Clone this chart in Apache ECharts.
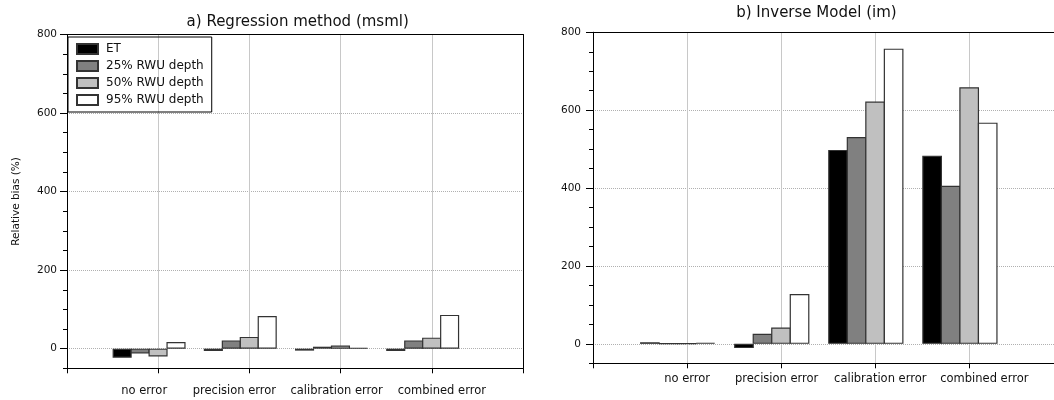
<!DOCTYPE html>
<html>
<head>
<meta charset="utf-8">
<script src="https://cdn.jsdelivr.net/npm/echarts@6/dist/echarts.min.js"></script>
<style>
  html, body { margin: 0; padding: 0; background: #fff; }
  #chart { width: 1054px; height: 400px; }
</style>
</head>
<body>
<div id="chart"></div>
<script>
const categories = ['no error', 'precision error', 'calibration error', 'combined error'];
const seriesNames = ['ET', '25% RWU depth', '50% RWU depth', '95% RWU depth'];
const yTicks = [0, 200, 400, 600, 800];

// a) Regression method (msml)
const msmlET = [-23, -6, -5, -6];
const msml25 = [-12, 21, 5, 21];
const msml50 = [-20, 30, 8, 28];
const msml95 = [17, 83, 2, 86];

// b) Inverse Model (im)
const imET = [4, -11, 498, 483];
const im25 = [1, 26, 531, 406];
const im50 = [1, 42, 622, 659];
const im95 = [3, 128, 758, 568];

const colors = ['#000000', '#808080', '#c0c0c0', '#ffffff'];
const FONT = 'DejaVu Sans';
const TEXT = '#111';
const GROUP_SHIFT = 0.1; // bar groups sit a bit left of the category ticks

// small horizontal nudges of the category labels (px), as in the original
const leftLabelShift = [-14, -15, -4, 10];
const rightLabelShift = [0, -4.5, 5, 15];

function labelRich(shifts) {
  const rich = {};
  shifts.forEach((s, i) => {
    rich['s' + i] = {
      fontSize: 11.5,
      fontFamily: FONT,
      color: TEXT,
      padding: [0, Math.max(0, -2 * s), 0, Math.max(0, 2 * s)]
    };
  });
  return rich;
}

function catLabel(v) {
  const i = Math.round(v) - 1;
  if (i < 0 || i >= categories.length) return '';
  return '{s' + i + '|' + categories[i] + '}';
}

const blackLine = { lineStyle: { color: '#000', width: 1 } };

function bottomAxis(gridIndex, margin, shifts) {
  return {
    gridIndex,
    type: 'value',
    position: 'bottom',
    min: 0,
    max: 5,
    interval: 1,
    axisLine: { show: true, onZero: false, ...blackLine },
    axisTick: { show: true, length: 5, ...blackLine },
    axisLabel: {
      margin,
      fontSize: 11.5,
      fontFamily: FONT,
      color: TEXT,
      formatter: catLabel,
      rich: labelRich(shifts)
    },
    splitLine: { show: true, lineStyle: { color: '#c8c8c8', width: 1 } }
  };
}

function topAxis(gridIndex) {
  return {
    gridIndex,
    type: 'value',
    position: 'top',
    min: 0,
    max: 5,
    axisLine: { show: true, onZero: false, ...blackLine },
    axisTick: { show: false },
    axisLabel: { show: false },
    splitLine: { show: false }
  };
}

function mainYAxis(gridIndex, margin, name) {
  return {
    gridIndex,
    type: 'value',
    position: 'left',
    min: -50,
    max: 800,
    name: name,
    nameLocation: 'middle',
    nameGap: 45,
    nameTextStyle: { fontSize: 10.5, fontFamily: FONT, color: TEXT },
    axisLine: { show: true, onZero: false, ...blackLine },
    axisTick: { show: true, length: 7, customValues: yTicks, ...blackLine },
    axisLabel: { customValues: yTicks, margin, fontSize: 10.5, fontFamily: FONT, color: TEXT },
    splitLine: { show: true, lineStyle: { color: '#b0b0b0', type: 'dotted', width: 1 } }
  };
}

function minorYAxis(gridIndex) {
  return {
    gridIndex,
    type: 'value',
    position: 'left',
    min: -50,
    max: 800,
    interval: 50,
    axisLine: { show: true, onZero: false, ...blackLine },
    axisTick: { show: true, length: 4, ...blackLine },
    axisLabel: { show: false },
    splitLine: { show: false }
  };
}

function barSeries(name, vals, color, xi, yi) {
  return {
    name,
    type: 'bar',
    xAxisIndex: xi,
    yAxisIndex: yi,
    // slight overlap so neighbouring bars share one border line
    barGap: '-6%',
    barCategoryGap: '20%',
    data: vals.map((v, i) => [i + 1 - GROUP_SHIFT, v]),
    itemStyle: { color, borderColor: '#333', borderWidth: 1.2 },
    emphasis: { disabled: true }
  };
}

const msml = [msmlET, msml25, msml50, msml95];
const im = [imET, im25, im50, im95];

const chart = echarts.init(document.getElementById('chart'));

chart.setOption({
  animation: false,
  backgroundColor: '#fff',
  textStyle: { fontFamily: FONT },
  title: [
    {
      text: 'a) Regression method (msml)',
      left: 297.7,
      top: 14.5,
      padding: 0,
      textAlign: 'center',
      textStyle: { fontSize: 15, fontWeight: 'normal', color: TEXT, fontFamily: FONT }
    },
    {
      text: 'b) Inverse Model (im)',
      left: 816.4,
      top: 5.5,
      padding: 0,
      textAlign: 'center',
      textStyle: { fontSize: 15, fontWeight: 'normal', color: TEXT, fontFamily: FONT }
    }
  ],
  legend: {
    orient: 'vertical',
    left: 68,
    top: 37,
    data: seriesNames,
    icon: 'rect',
    itemWidth: 21,
    itemHeight: 10,
    itemGap: 5,
    padding: [6, 8, 6, 8],
    borderColor: '#000',
    borderWidth: 1,
    selectedMode: false,
    textStyle: { fontSize: 12, fontFamily: FONT, color: TEXT, lineHeight: 12, padding: [0, 0, 0, 3] }
  },
  grid: [
    { left: 67, right: 531, top: 34.5, bottom: 31.7, outerBoundsMode: 'none' },
    { left: 593, right: -9.4, top: 32.3, bottom: 36.7, outerBoundsMode: 'none' }
  ],
  xAxis: [
    bottomAxis(0, 17, leftLabelShift),
    topAxis(0),
    bottomAxis(1, 9.5, rightLabelShift),
    topAxis(1)
  ],
  yAxis: [
    mainYAxis(0, 10, 'Relative bias (%)'),
    minorYAxis(0),
    {
      gridIndex: 0,
      type: 'value',
      position: 'right',
      min: -50,
      max: 800,
      axisLine: { show: true, onZero: false, ...blackLine },
      axisTick: { show: false },
      axisLabel: { show: false },
      splitLine: { show: false }
    },
    mainYAxis(1, 12, ''),
    minorYAxis(1)
  ],
  series: [
    ...seriesNames.map((n, k) => barSeries(n, msml[k], colors[k], 0, 0)),
    ...seriesNames.map((n, k) => barSeries(n, im[k], colors[k], 2, 3))
  ]
});
</script>
</body>
</html>
